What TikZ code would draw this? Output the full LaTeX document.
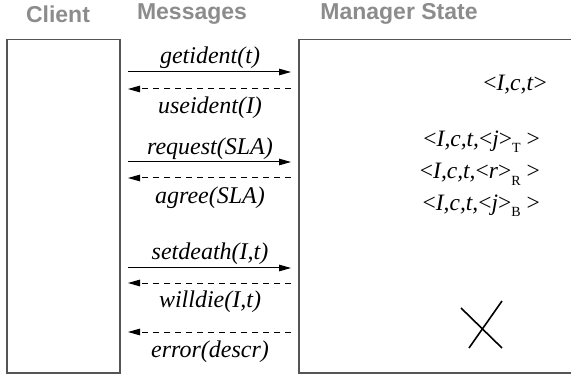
\documentclass[tikz,border=0pt]{standalone}
\usepackage{fontspec}
\setmainfont{Liberation Serif}
\newfontfamily\msgfont{Liberation Serif}
\newfontfamily\hdrfont{Liberation Sans}
\usetikzlibrary{arrows.meta}
\definecolor{hdrgray}{HTML}{8C8C8C}
\definecolor{boxgray}{HTML}{555555}
\tikzset{
  hdr/.style={font=\hdrfont\bfseries\fontsize{23}{26}\selectfont, text=hdrgray, inner sep=0pt},
  msg/.style={font=\msgfont\itshape\fontsize{24}{26}\selectfont, inner sep=0pt},
  st/.style={font=\msgfont\fontsize{23.5}{26}\selectfont, inner sep=0pt},
  boxline/.style={draw=boxgray, line width=1.4pt},
  call/.style={-{Triangle[length=12pt,width=6.5pt]}, line width=1pt},
  reply/.style={-{Triangle[length=12pt,width=6.5pt]}, line width=1pt, dash pattern=on 6pt off 5pt},
}
\newcommand{\subsc}[1]{\raisebox{-6pt}{\fontsize{14}{14}\selectfont #1}}
\begin{document}
\begin{tikzpicture}[x=1pt,y=-1pt]
\useasboundingbox (0,0) rectangle (571,377);
% headers
\node[hdr] (hclient) at (58,14) {Client};
\node[hdr] (hmsg) at (192,14) {Messages};
\node[hdr] (hmgr) at (399,14) {Manager State};
% boxes
\draw[boxline] (7,39.5) rectangle (120,373);
\draw[boxline] (575,39.5) -- (299,39.5) -- (299,373) -- (575,373);
% arrow end points
\foreach \n/\y in {1/72,2/89,3/162,4/178,5/268,6/283,7/332}{
  \coordinate (L\n) at (128,\y);
  \coordinate (R\n) at (291,\y);
}
\draw[call] (L1) -- (R1);
\draw[reply] (R2) -- (L2);
\draw[call] (L3) -- (R3);
\draw[reply] (R4) -- (L4);
\draw[call] (L5) -- (R5);
\draw[reply] (R6) -- (L6);
\draw[reply] (R7) -- (L7);
% message labels
\node[msg, anchor=base] (m1) at (210,64) {getident(t)};
\node[msg, anchor=base] (m2) at (210,114) {useident(I)};
\node[msg, anchor=base] (m3) at (210,155) {request(SLA)};
\node[msg, anchor=base] (m4) at (210,204) {agree(SLA)};
\node[msg, anchor=base] (m5) at (210,260) {setdeath(I,t)};
\node[msg, anchor=base] (m6) at (210,308) {willdie(I,t)};
\node[msg, anchor=base] (m7) at (210,357) {error(descr)};
% manager state
\node[st, anchor=base east] (s1) at (547,91) {\textless\textit{I,c,t}\textgreater};
\node[st, anchor=base east] (s2) at (540,147) {\textless\textit{I,c,t,}\textless\textit{j}\textgreater\subsc{T} \textgreater};
\node[st, anchor=base east] (s3) at (540,179) {\textless\textit{I,c,t,}\textless\textit{r}\textgreater\subsc{R} \textgreater};
\node[st, anchor=base east] (s4) at (540,211) {\textless\textit{I,c,t,}\textless\textit{j}\textgreater\subsc{B} \textgreater};
% death mark
\coordinate (x1) at (461,308);
\coordinate (x2) at (502,348);
\coordinate (x3) at (502,301);
\coordinate (x4) at (469,348);
\draw[line width=1.6pt] (x1) -- (x2);
\draw[line width=1.6pt] (x3) -- (x4);
\end{tikzpicture}
\end{document}
